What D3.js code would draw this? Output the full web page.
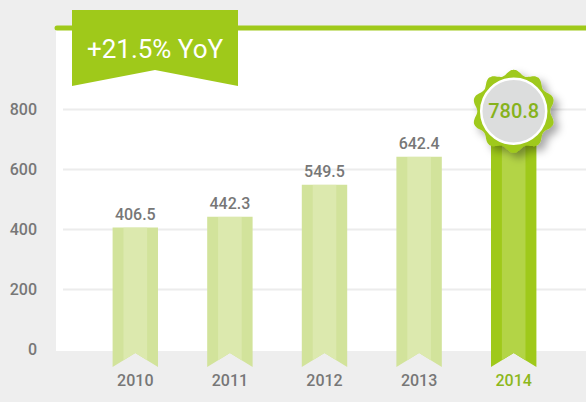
<!DOCTYPE html>
<html>
<head>
<meta charset="utf-8">
<script src="https://cdn.jsdelivr.net/npm/d3@7"></script>
<style>
  body { margin: 0; background: #eeeeee; }
  svg { display: block; font-family: Roboto, "Noto Sans", sans-serif; }
</style>
</head>
<body>
<svg width="586" height="402"></svg>
<script>
var years = ["2010", "2011", "2012", "2013", "2014"];
var values = [406.5, 442.3, 549.5, 642.4, 780.8];
var yTicks = [0, 200, 400, 600, 800];
var growthLabel = "+21.5% YoY";

var svg = d3.select("svg");
var width = +svg.attr("width"),
    height = +svg.attr("height");

var green = "#9fc91a",
    greenMid = "#b3d446",
    paleOuter = "#d2e39b",
    paleMid = "#dce9ae",
    grayText = "#777777";

var x = d3.scaleBand()
    .domain(years)
    .range([88, 561])
    .paddingInner(0.52)
    .paddingOuter(0.26);

var y = d3.scaleLinear()
    .domain([0, 800])
    .range([349.5, 109.5]);

// white panel + top green rule
svg.append("rect")
    .attr("x", 56).attr("y", 28)
    .attr("width", width - 56).attr("height", 323)
    .attr("fill", "#ffffff");

svg.append("line")
    .attr("x1", 57).attr("x2", width + 5)
    .attr("y1", 28).attr("y2", 28)
    .attr("stroke", green).attr("stroke-width", 5)
    .attr("stroke-linecap", "round");

// gridlines
svg.append("g")
    .selectAll("line")
    .data(yTicks.filter(function (d) { return d > 0; }))
    .enter().append("line")
    .attr("x1", 63).attr("x2", width)
    .attr("y1", function (d) { return y(d); })
    .attr("y2", function (d) { return y(d); })
    .attr("stroke", "#ececec").attr("stroke-width", 2);

// y axis labels
var yAxis = svg.append("g")
    .attr("transform", "translate(37,0)")
    .call(d3.axisLeft(y).tickValues(yTicks).tickSize(0).tickPadding(0));
yAxis.select(".domain").remove();
yAxis.selectAll("text")
    .attr("fill", grayText)
    .style("font-size", "16px")
    .style("font-weight", 500)
    .style("font-family", "Roboto, sans-serif");

// ribbon bars
var bottom = 367, notch = 14;
function ribbon(x0, w, top) {
    return "M" + x0 + "," + top +
        "H" + (x0 + w) +
        "V" + bottom +
        "L" + (x0 + w / 2) + "," + (bottom - notch) +
        "L" + x0 + "," + bottom + "Z";
}

var bars = svg.append("g")
    .selectAll("g")
    .data(years.map(function (yr, i) { return { year: yr, value: values[i], last: i === years.length - 1 }; }))
    .enter().append("g");

bars.append("path")
    .attr("d", function (d) { return ribbon(x(d.year), x.bandwidth(), y(d.value)); })
    .attr("fill", function (d) { return d.last ? green : paleOuter; });

bars.each(function (d) {
    var bw = x.bandwidth(), side = bw * 0.24;
    var clipId = "clip-" + d.year;
    d3.select(this).append("clipPath").attr("id", clipId)
        .append("path")
        .attr("d", ribbon(x(d.year), bw, y(d.value)));
    d3.select(this).append("rect")
        .attr("clip-path", "url(#" + clipId + ")")
        .attr("x", x(d.year) + side)
        .attr("y", y(d.value))
        .attr("width", bw - side * 2)
        .attr("height", bottom - y(d.value))
        .attr("fill", d.last ? greenMid : paleMid);
});

// value labels (not on the highlighted bar)
bars.filter(function (d) { return !d.last; })
    .append("text")
    .attr("x", function (d) { return x(d.year) + x.bandwidth() / 2; })
    .attr("y", function (d) { return y(d.value) - 8; })
    .attr("text-anchor", "middle")
    .attr("fill", grayText)
    .style("font-size", "16px")
    .style("font-weight", 500)
    .text(function (d) { return d.value.toFixed(1); });

// x axis labels
var xAxis = svg.append("g")
    .attr("transform", "translate(0,375)")
    .call(d3.axisBottom(x).tickSize(0).tickPadding(0));
xAxis.select(".domain").remove();
xAxis.selectAll("text")
    .attr("dy", "0.71em")
    .attr("fill", function (d) { return d === years[years.length - 1] ? "#8cb81c" : grayText; })
    .style("font-size", "16px")
    .style("font-weight", 500)
    .style("font-family", "Roboto, sans-serif");

// badge on last bar
var defs = svg.append("defs");
var shadow = defs.append("filter").attr("id", "shadow")
    .attr("x", "-50%").attr("y", "-50%").attr("width", "200%").attr("height", "200%");
shadow.append("feDropShadow")
    .attr("dx", 5).attr("dy", 5).attr("stdDeviation", 4)
    .attr("flood-color", "#000").attr("flood-opacity", 0.35);

var lastIdx = years.length - 1;
var bx = x(years[lastIdx]) + x.bandwidth() / 2,
    by = y(values[lastIdx]) - 4;

var lobes = 10, rOuter = 39, amp = 2.6;
var star = d3.range(0, 361, 3).map(function (deg) {
    var a = deg * Math.PI / 180;
    var r = rOuter + amp * Math.cos(lobes * a);
    return [bx + r * Math.sin(a), by - r * Math.cos(a)];
});

var badge = svg.append("g");
badge.append("path")
    .attr("d", d3.line().curve(d3.curveCardinalClosed)(star))
    .attr("fill", green)
    .attr("filter", "url(#shadow)");
badge.append("circle")
    .attr("cx", bx).attr("cy", by).attr("r", 32.5)
    .attr("fill", "#dcdddd")
    .attr("stroke", "#ffffff").attr("stroke-width", 2.5);
badge.append("text")
    .attr("x", bx).attr("y", by)
    .attr("dy", "0.36em")
    .attr("text-anchor", "middle")
    .attr("fill", "#86b21c")
    .style("font-size", "20px")
    .style("font-weight", 500)
    .text(values[lastIdx].toFixed(1));

// YoY banner
var banner = svg.append("g");
banner.append("path")
    .attr("d", "M72,10H238V86L155,70L72,86Z")
    .attr("fill", green);
banner.append("text")
    .attr("x", 155).attr("y", 49)
    .attr("dy", "0.36em")
    .attr("text-anchor", "middle")
    .attr("fill", "#ffffff")
    .style("font-size", "26px")
    .style("font-weight", 400)
    .text(growthLabel);
</script>
</body>
</html>
